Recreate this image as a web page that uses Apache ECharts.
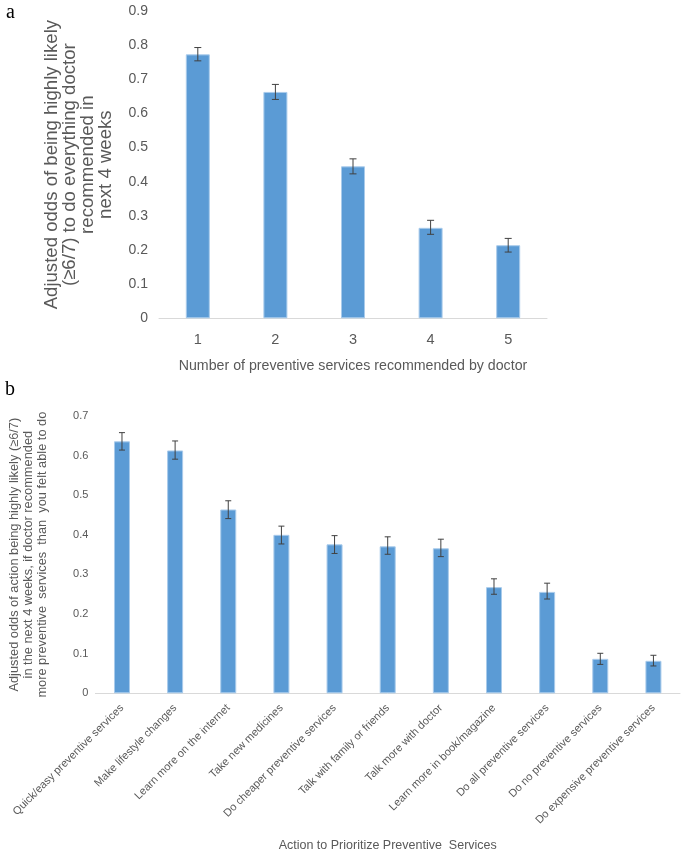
<!DOCTYPE html>
<html>
<head>
<meta charset="utf-8">
<script src="https://cdn.jsdelivr.net/npm/echarts@6/dist/echarts.min.js"></script>
<style>html,body{margin:0;padding:0;background:#fff}#c{width:684px;height:855px}</style>
</head>
<body>
<div id="c"></div>
<script>
// Panel a
var catsA = ['1', '2', '3', '4', '5'];
var valsA = [0.773, 0.663, 0.445, 0.265, 0.214];
var lowA  = [0.754, 0.641, 0.423, 0.246, 0.194];
var highA = [0.793, 0.685, 0.467, 0.287, 0.234];
var ticksA = [0, 0.1, 0.2, 0.3, 0.4, 0.5, 0.6, 0.7, 0.8, 0.9];

// Panel b
var catsB = ['Quick/easy preventive services', 'Make lifestyle changes', 'Learn more on the internet',
  'Take new medicines', 'Do cheaper preventive services', 'Talk with family or friends',
  'Talk more with doctor', 'Learn more in book/magazine', 'Do all preventive services',
  'Do no preventive services', 'Do expensive preventive services'];
var valsB = [0.636, 0.613, 0.464, 0.400, 0.376, 0.371, 0.366, 0.268, 0.256, 0.087, 0.082];
var lowB  = [0.614, 0.591, 0.441, 0.377, 0.353, 0.351, 0.345, 0.250, 0.238, 0.073, 0.069];
var highB = [0.658, 0.637, 0.486, 0.422, 0.398, 0.395, 0.389, 0.289, 0.278, 0.101, 0.096];
var ticksB = [0, 0.1, 0.2, 0.3, 0.4, 0.5, 0.6, 0.7];

var FONT = "'Liberation Sans', Arial, sans-serif";
var GRAY = '#595959';
var BAR = '#5b9bd5';

function errData(lo, hi) {
  return lo.map(function (l, i) { return [i, l, hi[i]]; });
}
function errRender(cap) {
  return function (params, api) {
    var x = api.value(0);
    var p1 = api.coord([x, api.value(1)]);
    var p2 = api.coord([x, api.value(2)]);
    var st = { stroke: '#404040', lineWidth: 1 };
    return {
      type: 'group',
      children: [
        { type: 'line', shape: { x1: p1[0], y1: p1[1], x2: p2[0], y2: p2[1] }, style: st },
        { type: 'line', shape: { x1: p1[0] - cap, y1: p1[1], x2: p1[0] + cap, y2: p1[1] }, style: st },
        { type: 'line', shape: { x1: p2[0] - cap, y1: p2[1], x2: p2[0] + cap, y2: p2[1] }, style: st }
      ]
    };
  };
}
function tickFmt(list) {
  return function (v) {
    var t = list.filter(function (k) { return Math.abs(k - v) < 1e-9; });
    return t.length ? String(t[0]) : '';
  };
}

var chart = echarts.init(document.getElementById('c'), null, { renderer: 'canvas' });
chart.setOption({
  backgroundColor: '#fff',
  animation: false,
  textStyle: { fontFamily: FONT },
  graphic: [
    { type: 'text', left: 6, top: 3, style: { text: 'a', font: "20px 'Liberation Serif', 'Times New Roman', serif", fill: '#000' } },
    { type: 'text', left: 5, top: 380, style: { text: 'b', font: "20px 'Liberation Serif', 'Times New Roman', serif", fill: '#000' } }
  ],
  grid: [
    { left: 159, right: 137, top: 11, bottom: 536.7 },
    { left: 92, right: 4, top: 416, bottom: 161.7 }
  ],
  xAxis: [
    {
      gridIndex: 0, type: 'category', data: catsA,
      axisLine: { lineStyle: { color: '#d9d9d9', width: 1 } },
      axisTick: { show: false },
      axisLabel: { color: GRAY, fontSize: 14.5, margin: 14, fontFamily: FONT },
      name: 'Number of preventive services recommended by doctor',
      nameLocation: 'middle', nameGap: 41,
      nameTextStyle: { color: GRAY, fontSize: 14.2, fontFamily: FONT }
    },
    {
      gridIndex: 1, type: 'category', data: catsB,
      axisLine: { lineStyle: { color: '#d9d9d9', width: 1 } },
      axisTick: { show: false },
      axisLabel: { color: GRAY, fontSize: 11, rotate: 45, margin: 13, interval: 0, fontFamily: FONT },
      name: 'Action to Prioritize Preventive  Services',
      nameLocation: 'middle', nameGap: 146,
      nameTextStyle: { color: GRAY, fontSize: 12.5, fontFamily: FONT }
    }
  ],
  yAxis: [
    {
      gridIndex: 0, type: 'value', min: 0, max: 0.9, interval: 0.1,
      axisLine: { show: false }, axisTick: { show: false }, splitLine: { show: false },
      axisLabel: { color: GRAY, fontSize: 14, margin: 11, fontFamily: FONT, formatter: tickFmt(ticksA) },
      name: 'Adjusted odds of being highly likely\n(≥6/7) to do everything doctor\nrecommended in\nnext 4 weeks',
      nameLocation: 'middle', nameGap: 44.6, nameRotate: 90,
      nameTextStyle: { color: GRAY, fontSize: 18.6, lineHeight: 18, fontFamily: FONT, align: 'center' }
    },
    {
      gridIndex: 1, type: 'value', min: 0, max: 0.7, interval: 0.1,
      axisLine: { show: false }, axisTick: { show: false }, splitLine: { show: false },
      axisLabel: { color: GRAY, fontSize: 11, margin: 7, fontFamily: FONT, formatter: tickFmt(ticksB) },
      name: 'Adjusted odds of action being highly likely (≥6/7)\nin the next 4 weeks, if doctor recommended\nmore preventive  services  than  you felt able to do',
      nameLocation: 'middle', nameGap: 46, nameRotate: 90,
      nameTextStyle: { color: GRAY, fontSize: 12.8, lineHeight: 13.8, fontFamily: FONT, align: 'center' }
    }
  ],
  series: [
    {
      type: 'bar', xAxisIndex: 0, yAxisIndex: 0, data: valsA, barWidth: 24,
      itemStyle: { color: BAR, borderColor: '#a9cbeb', borderWidth: 1 }
    },
    {
      type: 'custom', xAxisIndex: 0, yAxisIndex: 0, data: errData(lowA, highA),
      renderItem: errRender(3.5), z: 5
    },
    {
      type: 'bar', xAxisIndex: 1, yAxisIndex: 1, data: valsB, barWidth: 16,
      itemStyle: { color: BAR, borderColor: '#a9cbeb', borderWidth: 1 }
    },
    {
      type: 'custom', xAxisIndex: 1, yAxisIndex: 1, data: errData(lowB, highB),
      renderItem: errRender(3), z: 5
    }
  ]
});
</script>
</body>
</html>
